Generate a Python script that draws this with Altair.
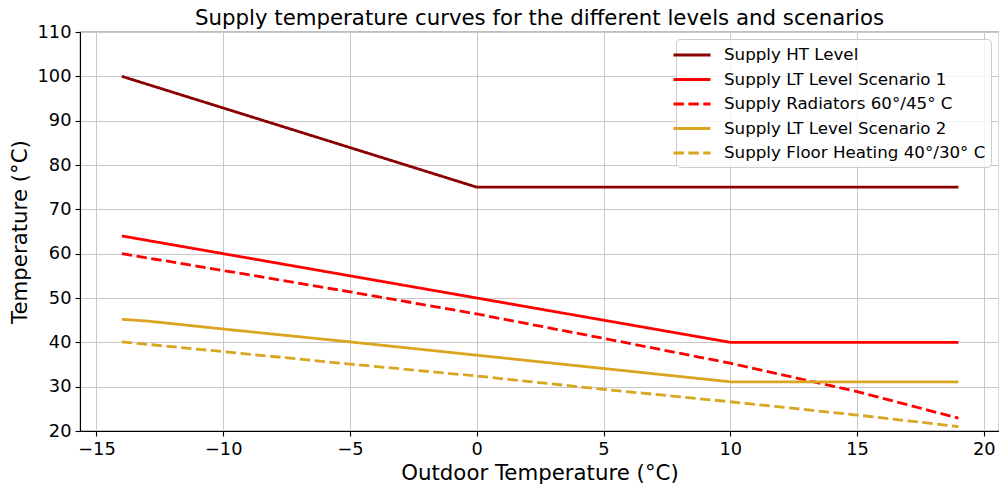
import altair as alt
import pandas as pd

series_names = [
    "Supply HT Level",
    "Supply LT Level Scenario 1",
    "Supply Radiators 60°/45° C",
    "Supply LT Level Scenario 2",
    "Supply Floor Heating 40°/30° C",
]
series_colors = ["#8b0000", "#ff0000", "#ff0000", "#daa520", "#daa520"]
series_dashes = [[1, 0], [1, 0], [10.4, 4.5], [1, 0], [10.4, 4.5]]

ht_x = [-14, 0, 19]
ht_y = [100, 75, 75]
lt1_x = [-14, 10, 19]
lt1_y = [64, 40, 40]
rad_x = [-14, -10, -5, 0, 5, 10, 15, 19]
rad_y = [60, 56.2, 51.4, 46.4, 40.9, 35.3, 28.9, 22.9]
lt2_x = [-14, -13, -10, -5, 0, 5, 10, 19]
lt2_y = [45.2, 44.8, 43, 40.1, 37.1, 34.1, 31.1, 31.1]
fh_x = [-14, -10, -5, 0, 5, 10, 15, 19]
fh_y = [40.1, 37.9, 35.1, 32.4, 29.4, 26.6, 23.6, 21.0]

x_ticks = [-15, -10, -5, 0, 5, 10, 15, 20]
y_ticks = [20, 30, 40, 50, 60, 70, 80, 90, 100, 110]

rows = []
for name, xs, ys in zip(series_names,
                        [ht_x, lt1_x, rad_x, lt2_x, fh_x],
                        [ht_y, lt1_y, rad_y, lt2_y, fh_y]):
    for i, (xv, yv) in enumerate(zip(xs, ys)):
        rows.append({"series": name, "x": xv, "y": yv, "i": i})
df = pd.DataFrame(rows)

FONT = "DejaVu Sans"

legend = alt.Legend(
    title=None,
    orient="none",
    legendX=596,
    legendY=7,
    symbolType="M-2,0H2",
    symbolSize=342,
    symbolStrokeWidth=2.8,
    labelFontSize=16.7,
    labelFont=FONT,
    labelColor="black",
    rowPadding=4.5,
    labelOffset=21,
    padding=5,
    fillColor="rgba(255,255,255,0.8)",
    strokeColor="#cccccc",
    cornerRadius=4,
    labelLimit=400,
)

chart = alt.Chart(df).mark_line(strokeWidth=2.8).encode(
    x=alt.X("x:Q",
            scale=alt.Scale(domain=[-15.65, 20.6], nice=False, zero=False),
            axis=alt.Axis(values=x_ticks, format="d",
                          labelExpr="replace(datum.label, '-', '\u2212')",
                          title="Outdoor Temperature (°C)",
                          titleY=48, titleBaseline="alphabetic")),
    y=alt.Y("y:Q",
            scale=alt.Scale(domain=[20, 110], nice=False, zero=False),
            axis=alt.Axis(values=y_ticks, format="d",
                          title="Temperature (°C)",
                          titleX=-54, titleY=199.5, titleAngle=270,
                          titleAlign="center", titleBaseline="alphabetic")),
    color=alt.Color("series:N",
                    scale=alt.Scale(domain=series_names, range=series_colors),
                    sort=series_names, legend=legend),
    strokeDash=alt.StrokeDash("series:N",
                              scale=alt.Scale(domain=series_names, range=series_dashes),
                              sort=series_names, legend=legend),
    order=alt.Order("i:Q"),
).properties(
    width=919,
    height=399,
    title=alt.TitleParams(
        "Supply temperature curves for the different levels and scenarios",
        fontSize=21.3, font=FONT, fontWeight="normal", color="black",
        anchor="middle", frame="group", baseline="alphabetic", offset=4, dy=27),
    autosize=alt.AutoSizeParams(type="none"),
    padding={"left": 80, "top": 32, "right": 0, "bottom": 55},
).configure(
    font=FONT,
).configure_view(
    stroke="black", strokeWidth=1.1,
).configure_axis(
    grid=True, gridColor="#c8c8c8", gridWidth=1,
    domainColor="black", domainWidth=1.1,
    tickColor="black", tickSize=5, tickWidth=1.1,
    labelFont=FONT, labelFontSize=17.8, labelColor="black", labelPadding=4,
    titleFont=FONT, titleFontSize=21.3, titleFontWeight="normal", titleColor="black",
)

chart.save("out.html", embed_options={"renderer": "svg", "actions": False})
